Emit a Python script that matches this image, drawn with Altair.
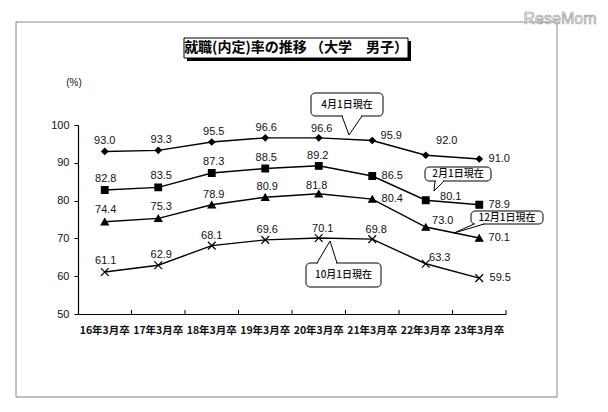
import altair as alt
import pandas as pd

# ---------------- data ----------------
categories = ["16年3月卒", "17年3月卒", "18年3月卒", "19年3月卒",
              "20年3月卒", "21年3月卒", "22年3月卒", "23年3月卒"]
series_names = ["4月1日現在", "2月1日現在", "12月1日現在", "10月1日現在"]
apr_values = [93.0, 93.3, 95.5, 96.6, 96.6, 95.9, 92.0, 91.0]
feb_values = [82.8, 83.5, 87.3, 88.5, 89.2, 86.5, 80.1, 78.9]
dec_values = [74.4, 75.3, 78.9, 80.9, 81.8, 80.4, 73.0, 70.1]
oct_values = [61.1, 62.9, 68.1, 69.6, 70.1, 69.8, 63.3, 59.5]
y_ticks = [50, 60, 70, 80, 90, 100]
title_text = "就職(内定)率の推移 （大学　男子）"

# ---------------- styles ----------------
W, H = 428, 189
JP = "Noto Sans CJK JP"
NUM = "Liberation Sans"

# label offsets (dx, dy) per series, in pixels
label_offsets = {
    "4月1日現在": [(0, -10), (3, -10), (2, -10), (1, -10), (3, -9), (19, -4), (21, -14), (20, 0)],
    "2月1日現在": [(1, -11), (3, -11), (2, -11), (1, -10), (-1, -10), (20, 0), (25, -3), (20, 0)],
    "12月1日現在": [(1, -12), (3, -11), (2, -10), (2, -10), (-2, -8), (20, 0), (17, -6), (20, 0)],
    "10月1日現在": [(1, -11), (3, -10), (0, -10), (2, -10), (4, -9), (4, -9), (14, -6), (21, 0)],
}

values_by_series = dict(zip(series_names, [apr_values, feb_values, dec_values, oct_values]))
rows = []
for s in series_names:
    for i, c in enumerate(categories):
        dx, dy = label_offsets[s][i]
        v = values_by_series[s][i]
        rows.append({"cat": c, "series": s, "value": v, "label": f"{v:.1f}", "dx": dx, "dy": dy})
df = pd.DataFrame(rows)

x_axis = alt.Axis(title=None, labelAngle=0, ticks=False, domainColor="black",
                  domainWidth=1.2, labelFont=JP, labelFontSize=10.5,
                  labelFontWeight="bold", labelColor="#111", labelPadding=11,
                  labelLimit=80, labelOverlap=False)
y_axis = alt.Axis(title=None, values=y_ticks, tickCount=6, grid=False, domainColor="black",
                  domainWidth=1.2, tickColor="black", tickSize=4,
                  labelFont=NUM, labelFontSize=11, labelColor="#111",
                  labelPadding=5, labelOverlap=False, labelFlush=False)
x_scale = alt.Scale(domain=categories, paddingInner=0, paddingOuter=0)
y_scale = alt.Scale(domain=[50, 100], nice=False, zero=False)


def X(**kw):
    return alt.X("cat:N", sort=categories, scale=x_scale, axis=x_axis, **kw)


def Y():
    return alt.Y("value:Q", scale=y_scale, axis=y_axis)


base = alt.Chart(df)

lines = base.mark_line(color="black", strokeWidth=1.4).encode(
    x=X(), y=Y(), detail="series:N")

points = base.mark_point(filled=True, color="black", stroke="black", strokeWidth=1.2,
                         opacity=1).encode(
    x=X(), y=Y(),
    shape=alt.Shape("series:N", scale=alt.Scale(
        domain=series_names,
        range=["diamond", "square", "triangle-up", "M-1,-1L1,1M-1,1L1,-1"]), legend=None),
    size=alt.Size("series:N", scale=alt.Scale(domain=series_names, range=[36, 60, 48, 40]),
                  legend=None),
)

# x ticks at band boundaries pointing inward
tick_df = pd.DataFrame({"cat": categories})
xticks = alt.Chart(tick_df).mark_rule(color="black", strokeWidth=1).encode(
    x=X(bandPosition=1),
    y=alt.value(H), y2=alt.value(H - 4))

label_layers = []
for (dx, dy), g in df.groupby(["dx", "dy"]):
    label_layers.append(
        alt.Chart(g).mark_text(dx=int(dx), dy=int(dy), font=NUM, fontSize=11,
                               color="#111", baseline="middle", align="center").encode(
            x=X(), y=Y(), text="label:N"))

one = pd.DataFrame({"k": [0]})


def hrule(x1, x2, y, color="black", w=1.0):
    return alt.Chart(one).mark_rule(color=color, strokeWidth=w).encode(
        x=alt.value(x1), x2=alt.value(x2), y=alt.value(y))


def vrule(x, y1, y2, color="black", w=1.0):
    return alt.Chart(one).mark_rule(color=color, strokeWidth=w).encode(
        x=alt.value(x), y=alt.value(y1), y2=alt.value(y2))


def seg(x1, y1, x2, y2, color="black", w=1.0):
    return alt.Chart(one).mark_rule(color=color, strokeWidth=w).encode(
        x=alt.value(x1), y=alt.value(y1), x2=alt.value(x2), y2=alt.value(y2))


def rect(x1, x2, y1, y2, fill="white", stroke="black", w=1.0, r=0):
    kw = dict(fill=fill, strokeWidth=w, cornerRadius=r)
    if stroke:
        kw["stroke"] = stroke
    return alt.Chart(one).mark_rect(**kw).encode(
        x=alt.value(x1), x2=alt.value(x2), y=alt.value(y1), y2=alt.value(y2))


def text(x, y, t, size=11, font=JP, weight="normal", color="#111", **kw):
    return alt.Chart(one).mark_text(text=t, fontSize=size, font=font, fontWeight=weight,
                                    color=color, baseline="middle", align="center", **kw).encode(
        x=alt.value(x), y=alt.value(y))


def callout(bx1, bx2, by1, by2, base1, base2, base_y, tip, label):
    return [
        rect(bx1, bx2, by1, by2, r=4),
        hrule(base1 + 1, base2 - 1, base_y, color="white", w=2),
        seg(base1, base_y, tip[0], tip[1]),
        seg(base2, base_y, tip[0], tip[1]),
        text((bx1 + bx2) / 2, (by1 + by2) / 2, label, size=10, weight=500),
    ]


# outer frame (3D style)
frame = [
    hrule(-62, 479, -103, color="#c4c4c4", w=2),
    vrule(479, -103, 272, color="#c4c4c4", w=2),
    vrule(-62, -103, 272, color="#808080", w=1),
    hrule(-62, 479, 272, color="#808080", w=1),
]

title_layers = [
    rect(109, 333, -84, -64, fill="black", stroke=None),
    rect(106, 330, -87, -67, fill="white", stroke="black", w=1),
    text(218, -77, title_text, size=14, weight="bold", color="black"),
]

misc = [
    text(-4, -42, "(%)", size=10, font=NUM),
    text(482, -106, "ReseMom", size=16, font=NUM, color="#ffffff",
         stroke="#9a9a9a", strokeWidth=0.7),
]

callouts = []
callouts += callout(233, 305, -32, -9, 264, 284, -9, (271, 10), "4月1日現在")
callouts += callout(347, 413, 42, 56, 357, 366, 56, (356, 66), "2月1日現在")
callouts += callout(393, 465, 86, 99, 396, 406, 99, (376, 108), "12月1日現在")
callouts += callout(228, 303, 138, 162, 239, 259, 138, (252, 116), "10月1日現在")

chart = alt.layer(
    *frame, *title_layers, *misc, lines, xticks, points, *label_layers, *callouts
).properties(
    width=W, height=H,
    autosize=alt.AutoSizeParams(type="none"),
    padding={"left": 70, "top": 117, "right": 94, "bottom": 90},
    background="white",
).configure_view(stroke=None)

chart.save("out.html", embed_options={"renderer": "svg", "actions": False})
